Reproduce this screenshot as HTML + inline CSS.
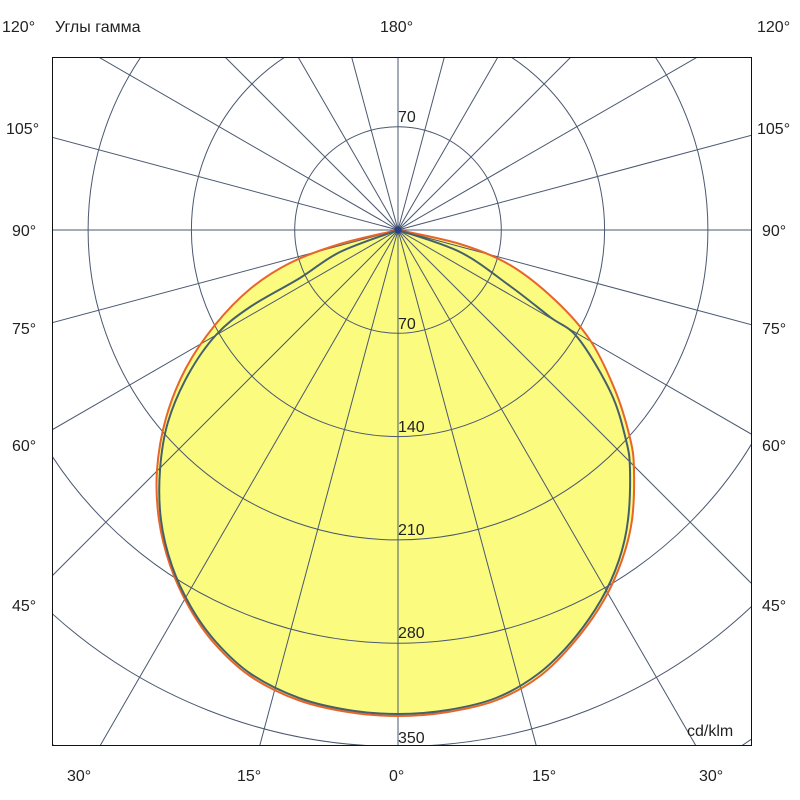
<!DOCTYPE html>
<html><head><meta charset="utf-8"><style>
html,body{margin:0;padding:0;background:#fff;width:800px;height:800px;overflow:hidden}
svg{display:block;position:absolute;left:0;top:0}
text{font-family:"Liberation Sans",Arial,sans-serif;font-size:16px;fill:#222}
</style></head><body>
<svg width="800" height="800" viewBox="0 0 800 800">
<defs><clipPath id="c"><rect x="52" y="57" width="700" height="689"/></clipPath></defs>
<g clip-path="url(#c)">
<path id="fill" fill="#fbfb80" stroke="none" d=""/>
<g stroke="#4a5870" stroke-width="1" fill="none">
<circle cx="398" cy="230" r="103.3"/><circle cx="398" cy="230" r="206.6"/><circle cx="398" cy="230" r="309.9"/><circle cx="398" cy="230" r="413.2"/><circle cx="398" cy="230" r="516.5"/><circle cx="398" cy="230" r="619.8"/><circle cx="398" cy="230" r="723.1"/>
<g transform="translate(398,230)">
<line x1="-900" y1="0" x2="900" y2="0"/>
<line x1="0" y1="-900" x2="0" y2="900"/>
<line x1="-869" y1="-233" x2="869" y2="233"/>
<line x1="-869" y1="233" x2="869" y2="-233"/>
<line x1="-779" y1="-450" x2="779" y2="450"/>
<line x1="-779" y1="450" x2="779" y2="-450"/>
<line x1="-636" y1="-636" x2="636" y2="636"/>
<line x1="-636" y1="636" x2="636" y2="-636"/>
<line x1="-450" y1="-779" x2="450" y2="779"/>
<line x1="-450" y1="779" x2="450" y2="-779"/>
<line x1="-233" y1="-869" x2="233" y2="869"/>
<line x1="-233" y1="869" x2="233" y2="-869"/>
</g></g>
<path id="red" fill="none" stroke="#e8642a" stroke-width="2" stroke-linejoin="round" d=""/>
<path id="gray" fill="none" stroke="#46606a" stroke-width="2" stroke-linejoin="round" d=""/>
</g>
<circle cx="398" cy="230" r="3.5" fill="#2a3f8a"/>
<rect x="52.5" y="57.5" width="699" height="688" fill="none" stroke="#111" stroke-width="1"/>
<text x="2" y="32">120°</text>
<text x="55" y="32">Углы гамма</text>
<text x="380" y="32">180°</text>
<text x="757" y="32">120°</text>
<text x="6" y="134">105°</text><text x="757" y="134">105°</text>
<text x="12" y="236">90°</text><text x="762" y="236">90°</text>
<text x="12" y="334">75°</text><text x="762" y="334">75°</text>
<text x="12" y="451">60°</text><text x="762" y="451">60°</text>
<text x="12" y="611">45°</text><text x="762" y="611">45°</text>
<text x="67" y="781">30°</text>
<text x="237" y="781">15°</text>
<text x="389" y="781">0°</text>
<text x="532" y="781">15°</text>
<text x="699" y="781">30°</text>
<text x="398" y="122">70</text>
<text x="398" y="329">70</text>
<text x="398" y="432">140</text>
<text x="398" y="535">210</text>
<text x="398" y="638">280</text>
<text x="398" y="743">350</text>
<text x="687" y="736">cd/klm</text>
</svg>
<script>
function cr(p){
  var n=p.length,d="M"+p[0][0]+","+p[0][1];
  for(var i=0;i<n-1;i++){
    var p0=p[Math.max(i-1,0)],p1=p[i],p2=p[i+1],p3=p[Math.min(i+2,n-1)];
    var c1=[p1[0]+(p2[0]-p0[0])/6,p1[1]+(p2[1]-p0[1])/6];
    var c2=[p2[0]-(p3[0]-p1[0])/6,p2[1]-(p3[1]-p1[1])/6];
    d+=" C"+c1[0].toFixed(1)+","+c1[1].toFixed(1)+" "+c2[0].toFixed(1)+","+c2[1].toFixed(1)+" "+p2[0]+","+p2[1];
  }
  return d;
}
var R=[[398,230],[340,244],[290,263],[250,289],[215,325],[186,368],[166,418],[157,470],[159,520],[170,565],[189,607],[214,643],[250,676],[298,700],[348,712],[398,716],[448,712],[497,700],[540,676],[575,641],[604,600],[622,560],[632,520],[634,470],[630,438],[615,390],[590,340],[555,300],[510,265],[460,244],[398,230]];
var G=[[398,230],[340,252],[300,278],[250,307],[216,335],[188,375],[168,422],[160,470],[161,520],[172,566],[191,607],[216,642],[251,674],[299,698],[348,710],[398,714],[448,710],[496,698],[538,674],[572,641],[601,600],[619,560],[628,520],[630,470],[626,440],[611,393],[578,338],[550,317],[510,286],[460,252],[398,230]];
var dr=cr(R),dg=cr(G);
document.getElementById("red").setAttribute("d",dr);
document.getElementById("fill").setAttribute("d",dr+" Z");
document.getElementById("gray").setAttribute("d",dg);
</script>
</body></html>
